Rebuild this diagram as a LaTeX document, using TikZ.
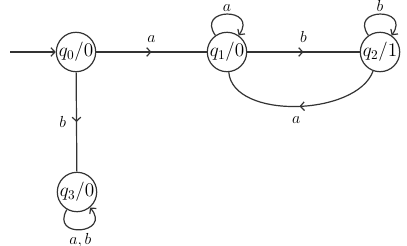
\documentclass[tikz,border=0pt]{standalone}
\usetikzlibrary{arrows.meta, positioning, decorations.markings}

\begin{document}
\begin{tikzpicture}[
  x=0.75pt, y=-0.75pt,
  line width=0.9pt,
  state/.style={
    draw=black!80,
    circle,
    line width=0.9pt,
    inner sep=0pt,
    minimum size=29pt,
    font=\Large
  },
  edge/.style={draw=black!80},
  midarrow/.style={
    postaction={decorate},
    decoration={markings,
      mark=at position 0.5 with {\arrow{Straight Barb[length=3pt,width=6.5pt]}}}
  },
  tip/.style={-{Straight Barb[length=3pt,width=6.5pt]}},
  selfloop/.style={looseness=3.8},
  lbl/.style={font=\large}
]

  \useasboundingbox (0,0) rectangle (407,246);

  % states
  \node[state] (q0) at (76,52) {$q_0/0$};
  \node[state] (q1) at (227,52) {$q_1/0$};
  \node[state] (q2) at (380,52) {$q_2/1$};
  \node[state] (q3) at (77,192) {$q_3/0$};

  % start arrow
  \coordinate (start) at (10,52);
  \draw[edge, tip] (start) -- (q0);

  % transitions
  \draw[edge, midarrow] (q0) -- node[lbl, above=3pt] {$a$} (q1);
  \draw[edge, midarrow] (q1) -- node[lbl, above=3pt] {$b$} (q2);
  \draw[edge, midarrow] (q2) to[out=-110, in=-85, looseness=0.85]
    node[lbl, below=4pt] {$a$} (q1);
  \draw[edge, midarrow] (q0) -- node[lbl, left=4pt] {$b$} (q3);

  % self loops
  \draw[edge, tip] (q1) to[out=125, in=55, selfloop]
    node[lbl, above=-2pt] {$a$} (q1);
  \draw[edge, tip] (q2) to[out=125, in=55, selfloop]
    node[lbl, above=-2pt] {$b$} (q2);
  \draw[edge, tip] (q3) to[out=-120, in=-50, selfloop]
    node[lbl, below=-1pt] {$a,b$} (q3);

\end{tikzpicture}
\end{document}
